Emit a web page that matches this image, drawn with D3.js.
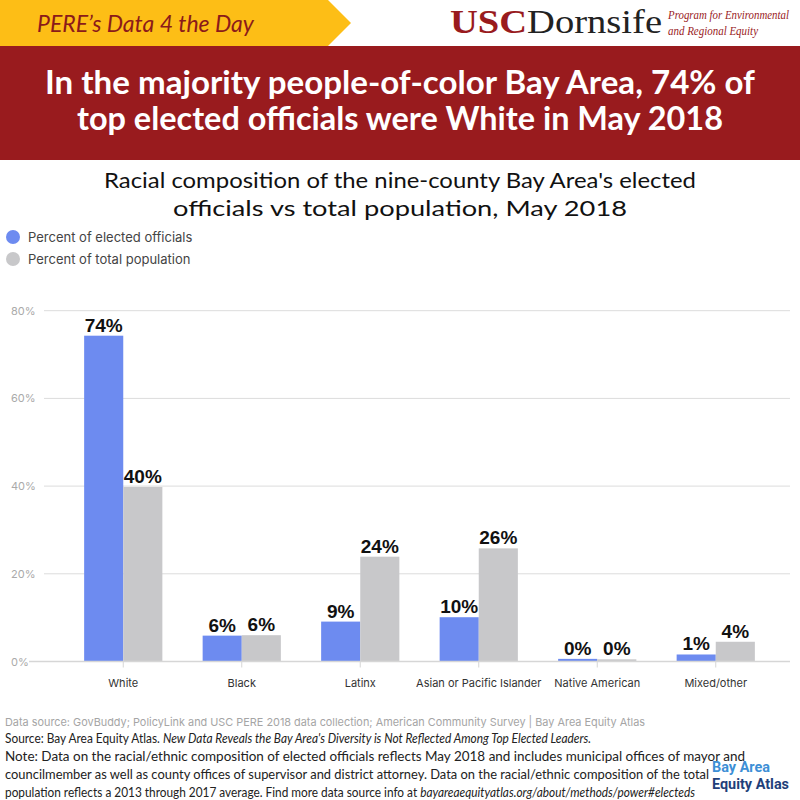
<!DOCTYPE html>
<html>
<head>
<meta charset="utf-8">
<script src="https://cdn.jsdelivr.net/npm/d3@7"></script>
<style>
  body { margin: 0; background: #fff; }
  svg { display: block; }
</style>
</head>
<body>
<div id="app"></div>
<script>
var width = 800;
var height = 800;

var categories = ["White", "Black", "Latinx", "Asian or Pacific Islander", "Native American", "Mixed/other"];
var series = ["Percent of elected officials", "Percent of total population"];
var officials = [74.3, 5.9, 9.1, 10.1, 0.6, 1.6];
var population = [39.8, 6.0, 23.9, 25.8, 0.5, 4.5];
var officialsLabels = ["74%", "6%", "9%", "10%", "0%", "1%"];
var populationLabels = ["40%", "6%", "24%", "26%", "0%", "4%"];
var yTicks = [0, 20, 40, 60, 80];

var colors = ["#6d8bf0", "#c8c8ca"];

var svg = d3.select("#app").append("svg")
    .attr("width", width)
    .attr("height", height);

// header banner
svg.append("rect").attr("x", 0).attr("y", 46).attr("width", width).attr("height", 114)
    .attr("fill", "#991b1e");
svg.append("polygon")
    .attr("points", "0,0 328,0 351,23 328,46 0,46")
    .attr("fill", "#fdbe16");
svg.append("text").attr("x", 37).attr("y", 32)
    .attr("font-family", "Lato").attr("font-style", "italic").attr("font-size", 23)
    .attr("fill", "#8b1a1a")
    .text("PERE\u2019s Data 4 the Day");

// USC Dornsife logo
var logo = svg.append("text").attr("x", 450).attr("y", 33)
    .attr("font-family", "Liberation Serif").attr("font-size", 34)
    .attr("textLength", 212).attr("lengthAdjust", "spacingAndGlyphs");
logo.append("tspan").attr("fill", "#991b1e").attr("font-weight", "bold").text("USC");
logo.append("tspan").attr("fill", "#222").text("Dornsife");
svg.append("text").attr("x", 668).attr("y", 19)
    .attr("font-family", "Liberation Serif").attr("font-style", "italic").attr("font-size", 11.5)
    .attr("fill", "#991b1e").attr("textLength", 121).attr("lengthAdjust", "spacingAndGlyphs")
    .text("Program for Environmental");
svg.append("text").attr("x", 668).attr("y", 35)
    .attr("font-family", "Liberation Serif").attr("font-style", "italic").attr("font-size", 11.5)
    .attr("fill", "#991b1e").attr("textLength", 90).attr("lengthAdjust", "spacingAndGlyphs")
    .text("and Regional Equity");

// title
var titleLines = [
  {t: "In the majority people-of-color Bay Area, 74% of", y: 94, w: 710},
  {t: "top elected officials were White in May 2018", y: 130, w: 646}
];
svg.selectAll(".title").data(titleLines).enter().append("text")
    .attr("class", "title")
    .attr("x", width / 2).attr("y", function(d) { return d.y; })
    .attr("text-anchor", "middle")
    .attr("font-family", "Lato").attr("font-weight", "bold").attr("font-size", 33)
    .attr("fill", "#fff")
    .attr("textLength", function(d) { return d.w; }).attr("lengthAdjust", "spacingAndGlyphs")
    .text(function(d) { return d.t; });

// subtitle
var subLines = [
  {t: "Racial composition of the nine-county Bay Area's elected", y: 188, w: 592},
  {t: "officials vs total population, May 2018", y: 216, w: 454}
];
svg.selectAll(".sub").data(subLines).enter().append("text")
    .attr("class", "sub")
    .attr("x", width / 2).attr("y", function(d) { return d.y; })
    .attr("text-anchor", "middle")
    .attr("font-family", "Lato").attr("font-size", 22)
    .attr("fill", "#111")
    .attr("textLength", function(d) { return d.w; }).attr("lengthAdjust", "spacingAndGlyphs")
    .text(function(d) { return d.t; });

// legend
var legend = svg.selectAll(".legend").data(series).enter().append("g")
    .attr("class", "legend")
    .attr("transform", function(d, i) { return "translate(13," + (237 + i * 22) + ")"; });
legend.append("circle").attr("r", 7).attr("fill", function(d, i) { return colors[i]; });
legend.append("text").attr("x", 15).attr("y", 4.5)
    .attr("font-family", "Inter").attr("font-size", 13).attr("fill", "#444")
    .text(function(d) { return d; });

// chart
var y = d3.scaleLinear().domain([0, 80]).range([661.5, 310.7]);
var x = d3.scaleBand().domain(categories).range([64, 775]).paddingInner(0.34).paddingOuter(0.17);
var x1 = d3.scaleBand().domain([0, 1]).range([0, x.bandwidth()]);

var grid = svg.append("g");
grid.selectAll("line").data(yTicks.filter(function(d) { return d > 0; })).enter().append("line")
    .attr("x1", 44).attr("x2", 790)
    .attr("y1", function(d) { return y(d); }).attr("y2", function(d) { return y(d); })
    .attr("stroke", "#dcdcdc").attr("stroke-width", 1);
grid.selectAll("text").data(yTicks).enter().append("text")
    .attr("x", 11).attr("y", function(d) { return y(d) + 4; })
    .attr("font-family", "Inter").attr("font-size", 11).attr("fill", "#aaa")
    .text(function(d) { return d + "%"; });

var groups = svg.selectAll(".cat").data(categories).enter().append("g")
    .attr("class", "cat")
    .attr("transform", function(d) { return "translate(" + x(d) + ",0)"; });

groups.selectAll("rect").data(function(d, i) { return [officials[i], population[i]]; })
    .enter().append("rect")
    .attr("x", function(d, j) { return x1(j); })
    .attr("y", function(d) { return y(d); })
    .attr("width", x1.bandwidth())
    .attr("height", function(d) { return y(0) - y(d); })
    .attr("fill", function(d, j) { return colors[j]; });

groups.selectAll(".val").data(function(d, i) {
      return [{v: officials[i], l: officialsLabels[i]}, {v: population[i], l: populationLabels[i]}];
    })
    .enter().append("text")
    .attr("class", "val")
    .attr("x", function(d, j) { return x1(j) + x1.bandwidth() / 2; })
    .attr("y", function(d) { return y(d.v) - 4; })
    .attr("text-anchor", "middle")
    .attr("font-family", "Liberation Sans").attr("font-weight", "bold").attr("font-size", 19)
    .attr("fill", "#111")
    .text(function(d) { return d.l; });

// baseline and ticks
svg.append("line").attr("x1", 29).attr("x2", 790)
    .attr("y1", y(0)).attr("y2", y(0))
    .attr("stroke", "#d6d6d6").attr("stroke-width", 1.5);
groups.append("line")
    .attr("x1", x.bandwidth() / 2).attr("x2", x.bandwidth() / 2)
    .attr("y1", y(0)).attr("y2", y(0) + 6)
    .attr("stroke", "#d6d6d6");
groups.append("text")
    .attr("x", x.bandwidth() / 2).attr("y", 687)
    .attr("text-anchor", "middle")
    .attr("font-family", "Inter").attr("font-size", 11).attr("fill", "#333")
    .text(function(d) { return d; });

// footer
svg.append("text").attr("x", 5).attr("y", 726)
    .attr("font-family", "Inter").attr("font-size", 11).attr("fill", "#a5a5a5")
    .attr("textLength", 640).attr("lengthAdjust", "spacingAndGlyphs")
    .text("Data source: GovBuddy; PolicyLink and USC PERE 2018 data collection; American Community Survey | Bay Area Equity Atlas");

var foot = [
  {y: 743, w: 586, parts: [["Source: Bay Area Equity Atlas. ", "normal"], ["New Data Reveals the Bay Area's Diversity is Not Reflected Among Top Elected Leaders.", "italic"]]},
  {y: 761, w: 740, parts: [["Note: Data on the racial/ethnic composition of elected officials reflects May 2018 and includes municipal offices of mayor and", "normal"]]},
  {y: 779, w: 704, parts: [["councilmember as well as county offices of supervisor and district attorney. Data on the racial/ethnic composition of the total", "normal"]]},
  {y: 797, w: 690, parts: [["population reflects a 2013 through 2017 average. Find more data source info at ", "normal"], ["bayareaequityatlas.org/about/methods/power#electeds", "italic"]]}
];
foot.forEach(function(f) {
  var t = svg.append("text").attr("x", 5).attr("y", f.y)
      .attr("font-family", "Lato").attr("font-size", 12.5).attr("fill", "#222")
      .attr("textLength", f.w).attr("lengthAdjust", "spacingAndGlyphs");
  f.parts.forEach(function(p) {
    t.append("tspan").attr("font-style", p[1]).text(p[0]);
  });
});

// Bay Area Equity Atlas logo
svg.append("text").attr("x", 712).attr("y", 772)
    .attr("font-family", "Roboto").attr("font-weight", "bold").attr("font-size", 14)
    .attr("fill", "#3d8fd6").attr("textLength", 58).attr("lengthAdjust", "spacingAndGlyphs")
    .text("Bay Area");
svg.append("text").attr("x", 712).attr("y", 789)
    .attr("font-family", "Roboto").attr("font-weight", "bold").attr("font-size", 14)
    .attr("fill", "#1f3f7a").attr("textLength", 77).attr("lengthAdjust", "spacingAndGlyphs")
    .text("Equity Atlas");
</script>
</body>
</html>
